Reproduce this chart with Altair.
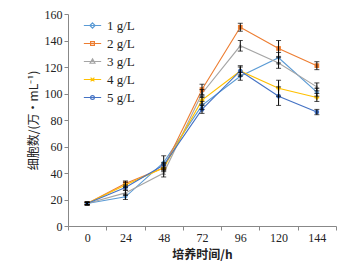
import altair as alt
import pandas as pd

times = [0, 24, 48, 72, 96, 120, 144]
names = ["1 g/L", "2 g/L", "3 g/L", "4 g/L", "5 g/L"]
colors = ["#5B9BD5", "#ED7D31", "#A5A5A5", "#FFC000", "#4472C4"]
shapes = ["diamond", "square", "triangle-up", "cross", "circle"]

s1 = [17, 22, 48, 91, 113, 127, 101]
s2 = [17, 32, 44, 103, 150, 134, 121]
s3 = [17, 25, 40, 100, 136, 123, 105]
s4 = [17, 31, 44, 95, 117, 104, 97]
s5 = [17, 29, 46, 88, 117, 98, 86]

e1 = [1, 2, 5, 3, 3, 4, 3]
e2 = [1, 2, 2, 4, 3, 6, 3]
e3 = [1, 2, 3, 3, 4, 4, 3]
e4 = [1, 2, 3, 3, 3, 6, 3]
e5 = [1, 2, 2, 3, 4, 7, 2]

y_ticks = [0, 20, 40, 60, 80, 100, 120, 140, 160]

series = [s1, s2, s3, s4, s5]
errors = [e1, e2, e3, e4, e5]

rows = []
for name, vals, errs in zip(names, series, errors):
    for t, v, e in zip(times, vals, errs):
        rows.append({"t": t, "series": name, "v": v, "lo": v - e, "hi": v + e})
df = pd.DataFrame(rows)

# legend symbols: short line with a small marker in the middle
legend_paths = [
    "M-1,0H1M0,-0.3L0.3,0L0,0.3L-0.3,0Z",
    "M-1,0H1M-0.22,-0.22H0.22V0.22H-0.22Z",
    "M-1,0H1M0,-0.3L0.28,0.2H-0.28Z",
    "M-1,0H1M-0.22,-0.22L0.22,0.22M-0.22,0.22L0.22,-0.22",
    "M-1,0H1M-0.22,0A0.22,0.22,0,1,0,0.22,0A0.22,0.22,0,1,0,-0.22,0Z",
]

serif = "Liberation Serif"
cjk = "Noto Sans CJK SC"

xaxis = alt.Axis(
    title="培养时间/h",
    tickBand="extent",
    labelAngle=0,
    labelFont=serif,
    labelFontSize=12,
    labelColor="#222",
    domainColor="#888",
    tickColor="#888",
    tickSize=4,
    labelPadding=2,
    titleFont=cjk,
    titleFontSize=12,
    titleFontWeight="bold",
    titleColor="#222",
    titlePadding=6,
)
yaxis = alt.Axis(
    title="细胞数/(万·mL⁻¹)",
    values=y_ticks,
    grid=False,
    labelOverlap=False,
    labelFont=serif,
    labelFontSize=12,
    labelColor="#222",
    domainColor="#888",
    tickColor="#888",
    tickSize=4,
    labelPadding=2,
    titleFont=cjk,
    titleFontSize=12,
    titleFontWeight="normal",
    titleColor="#222",
    titlePadding=4,
)
xscale = alt.Scale(type="band", paddingInner=0, paddingOuter=0)
yscale = alt.Scale(domain=[0, 160], nice=False)

xenc = alt.X("t:O", sort=times, scale=xscale, axis=xaxis)


def yenc(field):
    return alt.Y(field, type="quantitative", scale=yscale, axis=yaxis)


cscale = alt.Scale(domain=names, range=colors)
base = alt.Chart(df)

lines = base.mark_line(strokeWidth=1.1).encode(
    x=xenc, y=yenc("v"), color=alt.Color("series:N", scale=cscale, legend=None)
)
points = base.mark_point(filled=True, size=22, opacity=1).encode(
    x=xenc,
    y=yenc("v"),
    color=alt.Color("series:N", scale=cscale, legend=None),
    shape=alt.Shape("series:N", scale=alt.Scale(domain=names, range=shapes), legend=None),
)
bars = base.mark_rule(color="black", strokeWidth=1).encode(
    x=xenc, y=yenc("lo"), y2="hi:Q"
)
cap_lo = base.mark_tick(color="black", size=5, thickness=1, orient="horizontal").encode(
    x=xenc, y=yenc("lo")
)
cap_hi = base.mark_tick(color="black", size=5, thickness=1, orient="horizontal").encode(
    x=xenc, y=yenc("hi")
)

legend_props = dict(
    title=None,
    orient="none",
    legendX=15,
    legendY=2,
    labelFont=serif,
    labelFontSize=13,
    labelColor="#222",
    symbolSize=300,
    symbolStrokeWidth=1.2,
    rowPadding=1,
    labelOffset=5,
    padding=0,
)
legend_layer = base.mark_point(filled=False, strokeWidth=1.2, opacity=1).encode(
    color=alt.Color("series:N", scale=cscale, legend=alt.Legend(**legend_props)),
    shape=alt.Shape(
        "series:N",
        scale=alt.Scale(domain=names, range=legend_paths),
        legend=alt.Legend(**legend_props),
    ),
).transform_filter("false")

chart = (
    alt.layer(lines, points, bars, cap_lo, cap_hi, legend_layer)
    .resolve_scale(color="independent", shape="independent")
    .properties(
        width=268,
        height=212,
        autosize="none",
        padding={"left": 60, "top": 6, "right": 14, "bottom": 38},
    )
    .configure_view(stroke=None)
)

chart.save("out.html", embed_options={"renderer": "svg", "actions": False})
